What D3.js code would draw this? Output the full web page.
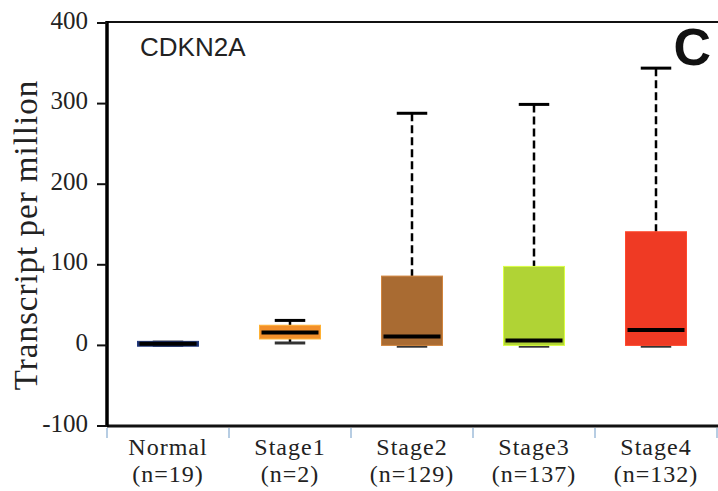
<!DOCTYPE html>
<html>
<head>
<meta charset="utf-8">
<script src="https://cdn.jsdelivr.net/npm/d3@7"></script>
<style>
    body { margin: 0; background: #fff; }
    .tickLabel, .catLabel, .ylabel { font-family: "Liberation Serif", "DejaVu Serif", serif; fill: #222; }
</style>
</head>
<body>
<div id="scene"></div>
<script>
const categories = ['Normal', 'Stage1', 'Stage2', 'Stage3', 'Stage4'];
const sampleSizes = ['(n=19)', '(n=2)', '(n=129)', '(n=137)', '(n=132)'];
const whiskerLow = [0, 3, -1, -1, -1];
const q1 = [-1, 8, 0, 0, 0];
const median = [2, 16, 11, 6, 19];
const q3 = [5, 25, 86, 98, 141];
const whiskerHigh = [4, 31, 288, 299, 344];
const boxColors = ['#1c2f66', '#f28f2a', '#a96b32', '#b0d335', '#ef3a24'];
const yTicks = [-100, 0, 100, 200, 300, 400];

const width = 718;
const height = 491;
const plotLeft = 107;
const plotRight = 717;
const plotTop = 23;
const plotBottom = 426;

const svg = d3.select('#scene')
    .append('svg')
    .attr('width', width)
    .attr('height', height);

const xScale = d3.scaleBand().domain(categories).range([plotLeft, plotRight]);
const yScale = d3.scaleLinear().domain([-100, 400]).range([plotBottom, plotTop]);

const boxes = categories.map((c, i) => ({
    cat: c, n: sampleSizes[i], lo: whiskerLow[i], q1: q1[i], med: median[i],
    q3: q3[i], hi: whiskerHigh[i], color: boxColors[i], dashed: i > 1
}));

const boxW = xScale.bandwidth() * 0.5;
const capW = boxW * 0.5;
const cx = d => xScale(d.cat) + xScale.bandwidth() / 2;

// whiskers
svg.selectAll('.whisker')
    .data(boxes)
    .enter().append('line')
    .attr('x1', cx)
    .attr('x2', cx)
    .attr('y1', d => yScale(d.hi))
    .attr('y2', d => yScale(d.q3))
    .attr('stroke', '#000')
    .attr('stroke-width', 2.5)
    .attr('stroke-dasharray', d => d.dashed ? '8,4' : null);

svg.selectAll('.whiskerLow')
    .data(boxes)
    .enter().append('line')
    .attr('x1', cx)
    .attr('x2', cx)
    .attr('y1', d => yScale(d.lo))
    .attr('y2', d => yScale(d.q1))
    .attr('stroke', '#000')
    .attr('stroke-width', 2.5);

// caps
[['hi', '#000'], ['lo', '#333']].forEach(([key, col]) => {
    svg.selectAll('.cap-' + key)
        .data(boxes)
        .enter().append('line')
        .attr('x1', d => cx(d) - capW / 2)
        .attr('x2', d => cx(d) + capW / 2)
        .attr('y1', d => yScale(d[key]))
        .attr('y2', d => yScale(d[key]))
        .attr('stroke', col)
        .attr('stroke-width', 3);
});

// boxes
svg.selectAll('.box')
    .data(boxes)
    .enter().append('rect')
    .attr('x', d => cx(d) - boxW / 2)
    .attr('y', d => yScale(d.q3))
    .attr('width', boxW)
    .attr('height', d => yScale(d.q1) - yScale(d.q3))
    .attr('fill', d => d.color)
    .attr('stroke', d => d3.color(d.color).brighter(0.6))
    .attr('stroke-width', 1);

// medians
svg.selectAll('.median')
    .data(boxes)
    .enter().append('line')
    .attr('x1', d => cx(d) - boxW / 2 + 2)
    .attr('x2', d => cx(d) + boxW / 2 - 2)
    .attr('y1', d => yScale(d.med))
    .attr('y2', d => yScale(d.med))
    .attr('stroke', '#000')
    .attr('stroke-width', 4);

// frame lines
svg.append('line')
    .attr('x1', plotLeft).attr('x2', width)
    .attr('y1', plotTop - 1).attr('y2', plotTop - 1)
    .attr('stroke', '#111').attr('stroke-width', 2);

svg.append('line')
    .attr('x1', plotLeft).attr('x2', width)
    .attr('y1', plotBottom).attr('y2', plotBottom)
    .attr('stroke', '#111').attr('stroke-width', 3);

svg.append('line')
    .attr('x1', plotLeft).attr('x2', plotLeft)
    .attr('y1', plotTop - 2).attr('y2', plotBottom + 1)
    .attr('stroke', '#000').attr('stroke-width', 3.5);

// y ticks
svg.selectAll('.yTicks')
    .data(yTicks)
    .enter().append('line')
    .attr('x1', plotLeft - 10).attr('x2', plotLeft)
    .attr('y1', d => yScale(d)).attr('y2', d => yScale(d))
    .attr('stroke', '#111').attr('stroke-width', 2);

svg.selectAll('.tickLabel')
    .data(yTicks)
    .enter().append('text')
    .attr('class', 'tickLabel')
    .attr('x', plotLeft - 19)
    .attr('y', d => yScale(d))
    .attr('dy', '0.22em')
    .attr('text-anchor', 'end')
    .style('font-size', '25px')
    .text(String);

// x band separators
const sepX = categories.map(c => xScale(c)).concat([plotRight]);
svg.selectAll('.xTicks')
    .data(sepX)
    .enter().append('line')
    .attr('x1', d => d).attr('x2', d => d)
    .attr('y1', plotBottom + 2).attr('y2', plotBottom + 12)
    .attr('stroke', '#b7cde3').attr('stroke-width', 2);

svg.selectAll('.catLabel')
    .data(boxes)
    .enter().append('text')
    .attr('class', 'catLabel')
    .attr('x', cx)
    .attr('y', 455)
    .attr('text-anchor', 'middle')
    .style('font-size', '24px')
    .style('letter-spacing', '1px')
    .text(d => d.cat);

svg.selectAll('.nLabel')
    .data(boxes)
    .enter().append('text')
    .attr('class', 'catLabel')
    .attr('x', cx)
    .attr('y', 482)
    .attr('text-anchor', 'middle')
    .style('font-size', '24px')
    .style('letter-spacing', '1px')
    .text(d => d.n);

svg.append('text')
    .attr('class', 'ylabel')
    .attr('transform', 'translate(37, 235) rotate(-90)')
    .attr('text-anchor', 'middle')
    .style('font-size', '33px')
    .style('letter-spacing', '1px')
    .text('Transcript per million');

svg.append('text')
    .attr('x', 140).attr('y', 56)
    .style('font-family', 'Liberation Sans, Arial, sans-serif')
    .style('font-size', '26px')
    .style('fill', '#222')
    .text('CDKN2A');

svg.append('text')
    .attr('x', 711).attr('y', 65)
    .attr('text-anchor', 'end')
    .style('font-family', 'Liberation Sans, Arial, sans-serif')
    .style('font-weight', 'bold')
    .style('font-size', '52px')
    .style('fill', '#111')
    .text('C');
</script>
</body>
</html>
